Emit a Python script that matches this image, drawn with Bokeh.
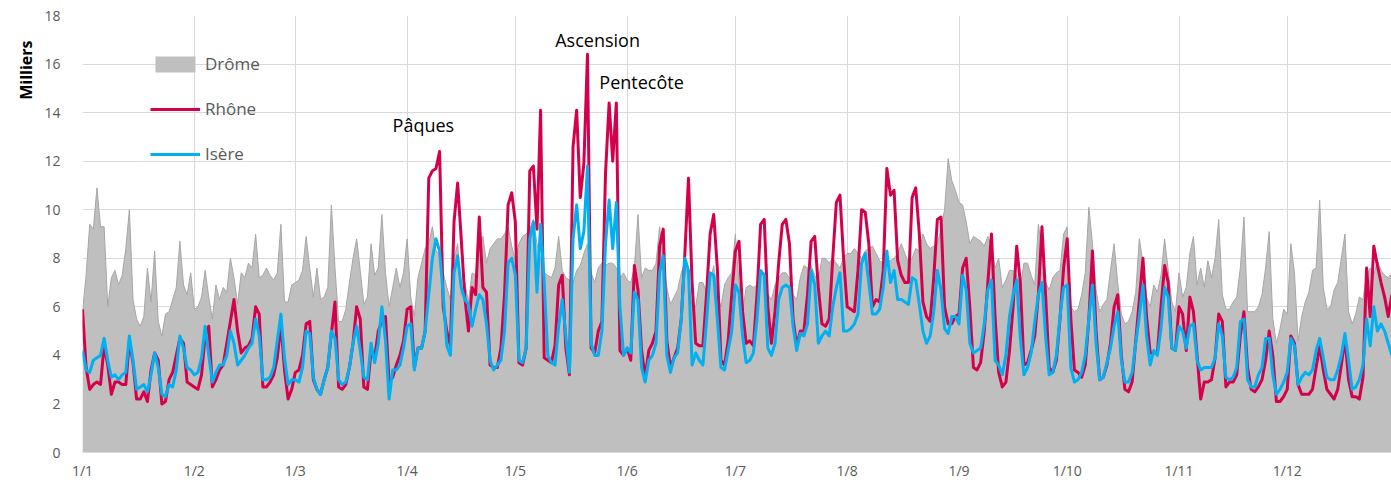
import math
from bokeh.plotting import figure
from bokeh.models import FixedTicker, Label, Legend, LegendItem, ColumnDataSource, Title
from bokeh.embed import file_html
from bokeh.resources import INLINE

# ---- axis labels ----
month_ticks = [0, 31, 59, 90, 120, 151, 181, 212, 243, 273, 304, 334]
month_labels = ["1/1", "1/2", "1/3", "1/4", "1/5", "1/6", "1/7", "1/8", "1/9", "1/10", "1/11", "1/12"]
y_ticks = [0, 2, 4, 6, 8, 10, 12, 14, 16, 18]

# ---- Drôme (milliers / jour) ----
drome_jan = [5.8, 7.3, 9.4, 9.2, 10.9, 9.3, 9.3, 6.0, 7.2, 7.5, 6.9, 7.3, 8.4, 10.0, 6.3, 5.5, 5.2, 5.6, 7.6, 6.2, 8.3, 5.4, 4.8, 5.7, 5.8, 6.3, 6.8, 8.7, 6.9, 6.5, 7.4]
drome_feb = [5.9, 6.0, 6.4, 7.5, 6.4, 5.5, 6.9, 6.3, 6.8, 6.6, 8.0, 7.2, 6.1, 7.4, 7.2, 7.8, 7.6, 9.0, 7.2, 7.3, 7.6, 7.3, 7.1, 7.4, 9.4, 6.2, 6.2, 6.9]
drome_mar = [7.0, 7.1, 7.5, 8.9, 7.6, 6.4, 7.6, 6.3, 6.4, 6.8, 10.2, 7.6, 5.4, 5.4, 5.9, 7.0, 8.0, 8.8, 7.5, 6.1, 6.4, 8.6, 7.3, 7.6, 9.8, 7.4, 6.0, 6.8, 7.6, 6.8, 7.4]
drome_apr = [8.8, 6.4, 5.6, 7.2, 7.8, 8.4, 8.6, 9.3, 8.3, 8.2, 7.4, 6.8, 6.3, 8.0, 8.6, 6.5, 7.0, 6.2, 7.4, 7.3, 8.3, 8.9, 7.8, 8.4, 8.6, 8.8, 8.8, 9.0, 9.3, 8.5]
drome_may = [7.9, 8.6, 8.9, 9.0, 9.2, 9.6, 8.6, 8.0, 7.4, 7.3, 7.2, 7.6, 8.9, 7.5, 7.2, 7.1, 7.0, 7.5, 7.7, 8.2, 8.6, 7.4, 7.0, 7.6, 7.8, 7.7, 7.8, 7.8, 7.6, 7.2, 7.4]
drome_jun = [7.1, 7.0, 7.6, 9.8, 7.2, 7.6, 7.5, 7.5, 7.8, 9.3, 8.0, 6.8, 6.1, 6.4, 6.7, 7.4, 7.8, 7.1, 6.0, 6.0, 7.0, 7.0, 6.6, 7.0, 7.7, 6.5, 6.0, 6.9, 7.2, 7.4]
drome_jul = [9.0, 7.0, 5.8, 6.8, 6.9, 6.8, 6.9, 7.5, 7.4, 6.5, 6.3, 6.9, 7.2, 7.4, 7.4, 7.2, 6.5, 6.3, 7.2, 7.7, 7.6, 7.7, 7.3, 7.1, 8.0, 8.0, 7.8, 8.0, 7.8, 7.6, 8.0]
drome_aug = [8.2, 8.2, 8.4, 8.2, 8.0, 8.3, 8.4, 8.5, 8.2, 7.9, 7.8, 7.9, 7.9, 8.0, 8.2, 8.6, 8.2, 7.8, 8.0, 8.4, 8.3, 9.0, 8.6, 8.4, 8.5, 8.6, 9.2, 10.0, 12.1, 11.2, 10.8]
drome_sep = [10.3, 10.2, 9.5, 8.6, 8.9, 8.8, 8.7, 8.5, 8.9, 8.5, 7.6, 8.0, 6.8, 7.1, 7.5, 7.5, 7.3, 6.8, 7.8, 7.8, 7.3, 6.9, 9.4, 8.4, 7.0, 6.7, 7.2, 7.4, 7.5, 9.0]
drome_oct = [9.3, 6.0, 5.8, 5.9, 6.5, 7.4, 10.1, 8.6, 6.7, 5.8, 6.1, 6.3, 7.5, 8.6, 7.0, 5.7, 5.3, 5.4, 5.8, 6.6, 8.8, 7.8, 6.4, 6.0, 6.9, 6.6, 7.3, 8.8, 7.5, 6.2, 5.8]
drome_nov = [7.4, 6.4, 6.8, 8.2, 8.9, 6.9, 7.6, 6.8, 7.9, 7.2, 8.0, 9.6, 6.5, 5.9, 5.9, 6.2, 6.4, 7.6, 9.7, 5.8, 5.8, 5.8, 6.0, 6.5, 7.6, 9.1, 5.5, 4.5, 5.1, 5.9]
drome_dec = [5.7, 8.6, 7.4, 4.6, 5.6, 6.2, 6.6, 7.5, 7.6, 10.4, 6.8, 5.9, 6.0, 6.7, 7.0, 8.0, 9.0, 5.8, 5.3, 5.7, 6.4, 6.3, 7.3, 7.6, 7.3, 7.9, 7.5, 7.3, 7.2, 7.4]

# ---- Rhône ----
rhone_jan = [5.9, 3.5, 2.6, 2.8, 2.9, 2.8, 4.4, 3.6, 2.4, 2.9, 2.9, 2.8, 2.8, 4.6, 3.7, 2.2, 2.2, 2.5, 2.1, 3.4, 4.1, 3.8, 2.0, 2.1, 3.0, 3.3, 4.0, 4.7, 4.5, 2.9, 2.8]
rhone_feb = [2.7, 2.6, 3.2, 4.8, 5.2, 2.7, 3.0, 3.4, 3.6, 4.5, 5.4, 6.3, 5.0, 4.1, 4.3, 4.4, 4.7, 6.0, 5.7, 2.7, 2.7, 2.9, 3.2, 3.9, 5.3, 3.4, 2.2, 2.6]
rhone_mar = [3.3, 3.4, 4.0, 5.3, 5.4, 3.0, 2.6, 2.4, 3.0, 3.5, 4.9, 6.2, 2.7, 2.6, 2.8, 3.5, 4.5, 6.0, 5.5, 2.7, 2.6, 4.2, 3.9, 5.0, 5.4, 5.6, 2.9, 3.1, 3.6, 4.0, 4.6]
rhone_apr = [5.9, 6.0, 3.5, 4.3, 4.3, 5.0, 11.3, 11.6, 11.7, 12.4, 6.0, 5.0, 4.4, 9.5, 11.1, 8.8, 6.4, 5.0, 6.8, 6.5, 9.7, 6.8, 6.6, 3.6, 3.5, 3.5, 4.3, 6.5, 10.2, 10.7]
rhone_may = [9.5, 3.7, 3.6, 4.3, 11.6, 11.8, 9.2, 14.1, 3.9, 3.8, 3.7, 4.4, 6.9, 7.3, 4.3, 3.2, 12.6, 14.1, 10.5, 11.9, 16.4, 4.3, 4.1, 5.0, 5.4, 11.5, 14.4, 12.0, 14.4, 4.2, 4.0]
rhone_jun = [4.3, 3.8, 7.7, 6.7, 4.2, 3.1, 4.2, 4.5, 5.0, 8.5, 9.2, 4.6, 3.5, 3.9, 4.3, 5.5, 8.2, 11.3, 7.0, 4.5, 4.4, 4.4, 6.5, 9.0, 9.8, 7.6, 3.8, 3.6, 4.6, 6.5]
rhone_jul = [8.3, 8.7, 5.8, 4.5, 4.6, 4.4, 6.5, 9.4, 9.6, 6.0, 4.5, 5.8, 7.8, 9.4, 9.6, 8.6, 5.5, 4.4, 5.0, 5.0, 6.5, 8.7, 8.9, 6.8, 5.3, 5.2, 5.5, 8.0, 10.3, 10.6, 8.0]
rhone_aug = [6.0, 5.9, 5.8, 7.5, 10.0, 9.9, 8.6, 6.0, 6.3, 6.2, 7.5, 11.7, 10.6, 10.8, 7.9, 7.3, 7.0, 7.0, 10.5, 10.9, 9.0, 6.2, 5.6, 5.4, 7.2, 9.6, 9.7, 6.0, 5.3, 5.3, 5.6]
rhone_sep = [5.7, 7.6, 8.0, 6.0, 3.5, 3.4, 3.7, 5.0, 7.0, 9.0, 5.6, 3.3, 2.7, 2.9, 4.2, 6.0, 8.5, 7.0, 3.6, 3.7, 4.2, 4.8, 6.5, 9.3, 6.5, 3.5, 3.3, 3.8, 5.5, 7.6]
rhone_oct = [8.8, 5.5, 3.4, 3.3, 3.1, 3.6, 5.5, 8.3, 5.0, 3.0, 3.1, 3.6, 4.5, 6.0, 6.5, 4.0, 2.6, 2.5, 2.9, 4.6, 6.3, 8.0, 5.6, 4.1, 4.1, 4.1, 6.0, 7.7, 7.0, 4.3, 4.2]
rhone_nov = [6.0, 5.7, 4.2, 6.4, 5.8, 4.0, 2.2, 2.9, 2.9, 3.0, 3.9, 5.7, 5.4, 2.7, 2.9, 2.9, 3.2, 4.8, 5.8, 3.5, 2.6, 2.5, 2.7, 3.0, 3.8, 5.0, 4.0, 2.1, 2.1, 2.3]
rhone_dec = [2.6, 4.8, 4.5, 2.8, 2.4, 2.4, 2.4, 2.6, 3.5, 4.4, 3.4, 2.6, 2.4, 2.2, 2.6, 3.6, 4.7, 3.0, 2.3, 2.3, 2.2, 3.1, 7.6, 5.6, 8.5, 7.7, 7.0, 6.4, 5.6, 6.5]

# ---- Isère ----
isere_jan = [4.2, 3.4, 3.3, 3.8, 3.9, 4.0, 4.7, 3.8, 3.1, 3.2, 3.0, 3.2, 3.3, 4.8, 3.8, 2.6, 2.7, 2.8, 2.5, 3.2, 4.1, 3.5, 2.4, 2.3, 2.8, 2.7, 3.4, 4.8, 4.3, 3.5, 3.4]
isere_feb = [3.2, 3.3, 3.9, 5.2, 4.0, 2.9, 3.3, 3.6, 3.6, 4.0, 5.0, 4.5, 3.6, 3.8, 4.0, 4.3, 4.5, 5.5, 4.8, 3.0, 3.0, 3.1, 3.5, 4.6, 5.7, 3.9, 2.8, 3.0]
isere_mar = [3.0, 2.9, 3.5, 5.0, 4.9, 3.1, 2.6, 2.4, 3.0, 3.5, 5.0, 4.7, 3.0, 2.8, 2.9, 3.5, 4.5, 5.2, 4.2, 3.1, 3.0, 4.5, 3.7, 4.5, 6.0, 4.6, 2.2, 3.4, 3.4, 3.6, 4.3]
isere_apr = [5.2, 5.3, 3.4, 4.3, 4.3, 5.0, 6.5, 8.0, 8.8, 8.3, 6.5, 4.4, 4.0, 7.4, 8.1, 6.8, 6.3, 6.1, 5.2, 5.9, 6.5, 6.3, 5.3, 3.8, 3.4, 3.6, 3.8, 5.0, 7.8, 8.0]
isere_may = [7.3, 3.8, 3.7, 4.3, 8.8, 9.5, 6.6, 9.4, 7.0, 4.0, 3.7, 3.6, 5.2, 6.3, 4.8, 3.3, 8.8, 10.2, 8.4, 9.1, 11.8, 4.5, 4.0, 4.0, 5.0, 8.6, 10.4, 8.4, 10.3, 6.0, 4.0]
isere_jun = [4.3, 4.1, 6.6, 6.3, 3.5, 2.9, 3.8, 4.0, 4.5, 7.4, 8.1, 4.0, 3.3, 3.9, 4.1, 5.5, 8.0, 7.5, 3.6, 4.1, 3.8, 3.6, 5.4, 7.4, 7.3, 5.5, 3.5, 3.4, 4.2, 5.0]
isere_jul = [6.9, 6.6, 4.8, 3.7, 3.8, 4.1, 5.5, 7.5, 7.3, 4.3, 4.0, 4.5, 6.3, 6.8, 6.9, 6.8, 5.2, 4.2, 4.9, 4.8, 5.3, 7.5, 6.9, 4.5, 4.8, 5.0, 4.8, 6.0, 6.8, 7.4, 5.0]
isere_aug = [5.0, 5.1, 5.3, 5.7, 7.8, 8.2, 7.0, 5.7, 5.7, 5.9, 6.8, 8.3, 7.0, 7.5, 6.3, 6.3, 6.2, 6.1, 7.2, 7.1, 6.1, 5.0, 4.5, 4.8, 5.8, 7.5, 6.7, 5.1, 4.9, 5.6, 5.6]
isere_sep = [5.3, 7.3, 6.7, 4.5, 4.1, 4.2, 4.3, 5.3, 6.7, 7.1, 3.8, 3.6, 3.2, 4.0, 5.6, 6.5, 7.1, 4.7, 3.2, 3.5, 4.1, 5.4, 6.5, 7.0, 4.8, 3.2, 3.3, 4.0, 5.6, 6.8]
isere_oct = [6.9, 3.5, 2.9, 3.0, 3.3, 4.0, 5.5, 6.9, 4.5, 3.0, 3.1, 3.7, 4.3, 5.2, 5.8, 3.8, 2.9, 2.9, 3.3, 4.5, 5.6, 6.9, 4.8, 3.6, 4.2, 4.0, 5.1, 6.8, 6.4, 4.3, 4.2]
isere_nov = [5.2, 5.0, 4.3, 5.2, 5.3, 3.8, 3.4, 3.5, 3.5, 3.5, 3.9, 5.3, 4.8, 3.1, 3.0, 3.1, 3.5, 5.4, 5.5, 3.0, 2.7, 2.7, 3.2, 3.5, 4.7, 4.7, 3.2, 2.4, 2.6, 2.9]
isere_dec = [3.3, 4.7, 4.4, 2.8, 3.1, 3.3, 3.2, 3.4, 4.2, 4.7, 3.9, 3.1, 3.0, 3.0, 3.4, 4.0, 4.9, 3.8, 2.6, 2.7, 3.0, 3.6, 5.5, 4.4, 6.0, 5.0, 5.3, 5.0, 4.5, 4.0]

drome = (drome_jan + drome_feb + drome_mar + drome_apr + drome_may + drome_jun +
         drome_jul + drome_aug + drome_sep + drome_oct + drome_nov + drome_dec)
rhone = (rhone_jan + rhone_feb + rhone_mar + rhone_apr + rhone_may + rhone_jun +
         rhone_jul + rhone_aug + rhone_sep + rhone_oct + rhone_nov + rhone_dec)
isere = (isere_jan + isere_feb + isere_mar + isere_apr + isere_may + isere_jun +
         isere_jul + isere_aug + isere_sep + isere_oct + isere_nov + isere_dec)
n = min(len(drome), len(rhone), len(isere))
days = list(range(n))
src = ColumnDataSource(dict(day=days, drome=drome[:n], rhone=rhone[:n], isere=isere[:n], zero=[0] * n))

FONT = "Open Sans"
GRID = "#D9D9D9"
TXT = "#595959"

p = figure(frame_width=1309, frame_height=437,
           min_border_left=82, min_border_right=0, min_border_top=15, min_border_bottom=40,
           x_range=(0, 1309 / 3.607), y_range=(0, 18),
           output_backend="svg", toolbar_location=None)
p.outline_line_color = None
p.background_fill_color = "white"
p.border_fill_color = "white"

area = p.varea(x="day", y1="zero", y2="drome", source=src, fill_color="#BFBFBF")
p.line(x="day", y="drome", source=src, line_color="#A6A6A6", line_width=1)
r_rh = p.line(x="day", y="rhone", source=src, line_color="#D4004C", line_width=3, line_join="round")
r_is = p.line(x="day", y="isere", source=src, line_color="#00B0F0", line_width=3, line_join="round")

# axes
p.xaxis.ticker = FixedTicker(ticks=month_ticks)
p.xaxis.major_label_overrides = {t: l for t, l in zip(month_ticks, month_labels)}
p.yaxis.ticker = FixedTicker(ticks=y_ticks)
p.xgrid.ticker = FixedTicker(ticks=month_ticks)
p.ygrid.ticker = FixedTicker(ticks=y_ticks)
p.xgrid.grid_line_color = GRID
p.ygrid.grid_line_color = GRID
for ax in (p.xaxis[0], p.yaxis[0]):
    ax.major_label_text_font = FONT
    ax.major_label_text_font_size = "14px"
    ax.major_label_text_color = TXT
    ax.major_tick_line_color = None
    ax.minor_tick_line_color = None
    ax.major_tick_out = 0
    ax.major_tick_in = 0
p.xaxis.axis_line_color = GRID
p.yaxis.axis_line_color = None
p.xaxis.major_label_standoff = 8
p.yaxis.major_label_standoff = 22

# y-axis caption, placed near the top of the left margin
p.add_layout(Title(text="Milliers", align="right", offset=25,
                   text_font=FONT, text_font_size="16px", text_font_style="bold",
                   text_color="black"), "left")

# legend
legend = Legend(items=[LegendItem(label="Drôme", renderers=[area]),
                       LegendItem(label="Rhône", renderers=[r_rh]),
                       LegendItem(label="Isère", renderers=[r_is])],
                location=(68, 287), background_fill_alpha=0, border_line_color=None,
                glyph_width=50, glyph_height=20, label_height=20, spacing=22,
                padding=0, margin=0, label_standoff=5,
                label_text_font=FONT, label_text_font_size="17px", label_text_color=TXT)
p.add_layout(legend)

# annotations
for txt, xd, yv in [("Pâques", 94.5, 13.5), ("Ascension", 142.8, 17.0), ("Pentecôte", 155.0, 15.25)]:
    p.add_layout(Label(x=xd, y=yv, text=txt, text_align="center", text_baseline="middle",
                       text_font=FONT, text_font_size="18px", text_color="black"))

open("out.html", "w").write(file_html(p, INLINE))
